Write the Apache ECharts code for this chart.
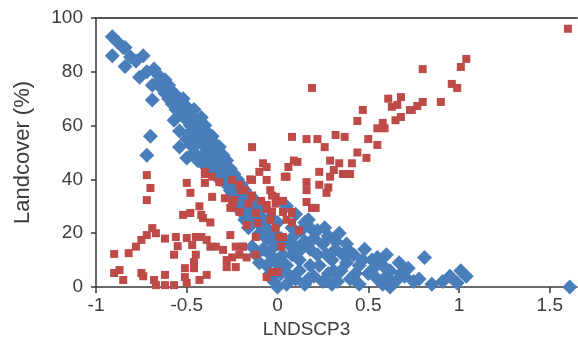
<!DOCTYPE html>
<html>
<head>
<meta charset="utf-8">
<script src="https://cdn.jsdelivr.net/npm/echarts@6/dist/echarts.min.js"></script>
<style>html,body{margin:0;padding:0;background:#fff}#c{width:578px;height:360px}</style>
</head>
<body>
<div id="c"></div>
<script>
var xTicks = [-1, -0.5, 0, 0.5, 1, 1.5];
var yTicks = [0, 20, 40, 60, 80, 100];
var xName = 'LNDSCP3';
var yName = 'Landcover (%)';

var blueData = [
  [-0.91,93],[-0.91,86],[-0.88,91],[-0.85,89],[-0.84,89],[-0.84,82],[-0.81,85.5],[-0.78,84],[-0.76,78],[-0.74,86],
  [-0.72,80],[-0.72,49],[-0.70,56],[-0.69,69.5],[-0.69,75],[-0.68,81],[-0.66,76],[-0.66,79],[-0.64,74],[-0.62,77],
  [-0.62,72],[-0.60,75],[-0.60,70],[-0.59,73],[-0.57,62],[-0.57,72],[-0.56,71],[-0.56,66],[-0.54,68],[-0.54,58],
  [-0.54,52],[-0.52,70],[-0.52,64],[-0.50,67],[-0.50,62],[-0.50,55],[-0.50,48],[-0.48,65],[-0.48,60],[-0.48,53],
  [-0.46,66],[-0.46,58],[-0.46,50],[-0.44,62],[-0.44,56],[-0.44,47],[-0.42,63],[-0.42,54],[-0.42,59],[-0.40,60],
  [-0.40,52],[-0.40,45],[-0.38,57],[-0.38,50],[-0.38,55],[-0.36,56],[-0.36,48],[-0.36,44],[-0.34,53],[-0.34,46],
  [-0.34,50],[-0.32,52],[-0.32,44],[-0.32,40],[-0.30,49],[-0.30,42],[-0.30,46],[-0.28,47],[-0.28,38],[-0.28,43],
  [-0.26,44],[-0.26,36],[-0.26,40],[-0.24,42],[-0.24,33],[-0.24,38],[-0.22,40],[-0.22,30],[-0.22,35],[-0.20,38],
  [-0.20,28],[-0.20,33],[-0.18,36],[-0.18,25],[-0.18,31],[-0.16,34],[-0.16,28],[-0.16,22],[-0.14,30],[-0.14,15],
  [-0.14,24],[-0.12,32],[-0.12,12],[-0.12,27],[-0.10,28],[-0.10,20],[-0.10,9],[-0.08,25],[-0.08,14],[-0.08,30],
  [-0.06,22],[-0.06,8],[-0.06,18],[-0.04,26],[-0.04,5],[-0.04,12],[-0.02,20],[-0.02,2],[-0.02,15],[0,24],
  [0,0],[0,10],[0,6],[0.02,5],[0.05,8],[0.08,12],[0.10,15],[0.12,10],[0.15,17],[0.18,14],
  [0.20,18],[0.22,12],[0.25,16],[0.28,19],[0.30,10],[0.32,14],[0.34,20],[0.35,6],[0.38,9],[0.40,3],
  [0.42,12],[0.45,8],[0.48,14],[0.50,5],[0.52,10],[0.55,3],[0.58,8],[0.60,12],[0.62,6],[0.65,2],
  [0.67,9],[0.70,4],[0.72,7],[0.75,2],[0.78,3],[0.81,11],[0.85,1],[0.91,2],[0.95,4],[0.99,1.5],
  [1.01,6],[1.04,4],[1.61,0],[0.05,1],[0.10,3],[0.15,1],[0.20,4],[0.25,2],[0.30,1],[0.12,6],
  [0.18,8],[0.06,16],[-0.02,10],[0.02,18],[0.28,5],[0.33,2],[0.45,1],[0.55,11],[0.38,16],[0.40,13],
  [0.58,1],[0.62,0],[0.05,30],[0.10,27],[0.15,24],[0.18,22],[0.08,22],[0.17,25],[0.22,21],
  [-0.58,68],[-0.53,66],[-0.47,62],[-0.43,60],[-0.39,53],[-0.35,51],[-0.31,47],[-0.27,41],[-0.23,37],[-0.19,34],
  [-0.15,30],[-0.11,24],[-0.07,20],[-0.03,17],[-0.49,57],[-0.45,53],[-0.41,49],[-0.37,46],[-0.33,42],[-0.29,39],
  [-0.25,35],[-0.21,31],[-0.17,27],[0.03,12],[0.07,4],[0.13,14],[0.17,3],[0.23,8],[0.27,12],[0.31,6],
  [0.36,12],[0.43,5],[0.47,10],[0.53,7],[0.60,4],[0.68,5],[0.09,19],[0.13,21],[0.26,22],[0.32,17]
];

var redData = [
  [-0.72,41.6],[-0.70,36.8],[-0.72,32.3],[-0.48,35],[-0.36,33.5],[-0.40,42],[-0.40,38.7],[-0.43,30],[-0.52,26.8],[-0.41,25.6],
  [-0.37,24],[-0.69,21.9],[-0.67,20],[-0.62,18],[-0.56,18.6],[-0.55,15.2],[-0.72,19.3],[-0.75,17.5],[-0.78,15],[-0.82,12.6],
  [-0.90,12.3],[-0.50,18.2],[-0.47,15.6],[-0.45,18.6],[-0.42,18.6],[-0.39,17.5],[-0.37,15],[-0.45,12],[-0.46,9.3],[-0.46,7],
  [-0.51,7],[-0.51,3.7],[-0.57,12],[-0.90,5.2],[-0.87,6.3],[-0.85,2.6],[-0.75,5.2],[-0.74,4],[-0.68,2.6],[-0.67,0.7],
  [-0.62,0.7],[-0.62,4.5],[-0.57,0.7],[-0.50,1.5],[-0.43,2.6],[-0.39,4.5],[-0.34,15],[-0.30,13.8],[-0.28,10],[-0.28,7.4],
  [-0.25,11],[-0.26,19.3],[-0.23,15],[-0.21,12],[-0.19,15],[-0.23,7.4],[-0.25,39.8],[-0.21,38],[-0.18,36],[-0.24,32.3],
  [-0.25,29.7],[-0.21,27.9],[-0.17,23],
  [0.19,74],[-0.14,52],[0.08,55.8],[0.16,55],[0.22,55],[0.26,52],[0.32,56.5],[0.37,55.8],[0.50,55],[0.55,52.8],
  [0.44,61.7],[0.47,65.8],[0.55,59],[0.58,61],[0.59,59],[0.61,70],[0.63,67],[0.66,67.7],[0.68,70.6],[0.65,62],
  [0.68,63.2],[0.73,65.8],[1.60,96],[0.80,81],[1.04,84.8],[1.01,81.8],[0.96,75.5],[0.99,74],[0.90,68.8],[0.80,68.8],
  [0.77,67.3],[0.74,65.8],
  [0.44,50],[0.49,48],[0.41,46],[0.40,42],[0.36,42],[0.34,46],[0.29,47],[0.31,43.5],[0.29,41],[0.28,37],
  [0.23,38],[0.27,35],[0.23,42.8],[0.11,46.5],[0.06,44.6],[-0.08,46],[-0.10,42.8],[0.16,39],[0.16,36],[0.04,41],
  [0.16,31.6],[0.19,29.4],[0.21,29.4],[0.08,27.9],[0.08,24],[0.03,27.9],[0.05,25],[0.12,21],[-0.15,40],[-0.14,34],
  [-0.04,36],[-0.01,33.5],[-0.06,30.5],[-0.03,28],[-0.04,25],[-0.01,22],[0.01,18.6],[0.03,18.6],[0.02,15],[-0.12,27.5],
  [-0.16,31],[-0.11,23.8],[-0.12,18.6],[-0.19,15],[-0.17,11],[-0.12,12],[-0.03,5.6],[0,5.6],[-0.06,3.7],
  [0.09,47],[-0.06,44.6],[0.05,41],[-0.40,42.8],[-0.36,41],[-0.32,39],[-0.29,33],[-0.25,31.6],[-0.26,29.4],[-0.42,26.8],
  [-0.48,27.5],[-0.50,38.7],[0.08,27.5],[0.03,32],[-0.14,39.8],[-0.06,39.8],[-0.14,33.5],[-0.09,32],[-0.03,34],[-0.01,31],
  [-0.06,29],[-0.20,36]
];

var FONT = '"Liberation Sans", Arial, sans-serif';
var AXC = '#3a3a3a';
var TXT = '#3c3c3c';
var chart = echarts.init(document.getElementById('c'), null, {renderer: 'canvas'});
chart.setOption({
  animation: false,
  backgroundColor: '#fff',
  grid: {left: 96, right: 1, top: 18, bottom: 73, containLabel: false},
  xAxis: [{
    type: 'value', min: -1, max: 1.65, interval: 0.5,
    name: xName, nameLocation: 'middle', nameGap: 27,
    nameTextStyle: {fontFamily: FONT, fontSize: 19, color: TXT, padding: [0, 60, 0, 0]},
    axisLine: {show: true, onZero: false, lineStyle: {color: AXC, width: 1.5}},
    axisTick: {show: true, length: 6, customValues: xTicks, lineStyle: {color: AXC, width: 1.5}},
    axisLabel: {fontFamily: FONT, fontSize: 19, color: TXT, margin: 9, customValues: xTicks,
      formatter: function (v) { return String(v); }},
    splitLine: {show: false}
  }, {
    type: 'value', position: 'top', min: -1, max: 1.65,
    axisLine: {show: true, onZero: false, lineStyle: {color: '#555', width: 2}},
    axisTick: {show: false}, axisLabel: {show: false}, splitLine: {show: false}
  }],
  yAxis: {
    type: 'value', min: 0, max: 100, interval: 20,
    name: yName, nameLocation: 'middle', nameGap: 62, nameRotate: 90,
    nameTextStyle: {fontFamily: FONT, fontSize: 22, color: TXT},
    axisLine: {show: true, onZero: false, lineStyle: {color: AXC, width: 1.5}},
    axisTick: {show: true, length: 5, lineStyle: {color: AXC, width: 1.5}},
    axisLabel: {fontFamily: FONT, fontSize: 19, color: TXT, margin: 13},
    splitLine: {show: false}
  },
  series: [{
    type: 'scatter', data: blueData, symbol: 'diamond', symbolSize: 15, clip: false,
    itemStyle: {color: '#4A7EBB', opacity: 1}
  }, {
    type: 'scatter', data: redData, symbol: 'rect', symbolSize: 8, clip: false,
    itemStyle: {color: '#BE4B48', opacity: 1}
  }]
});
</script>
</body>
</html>
